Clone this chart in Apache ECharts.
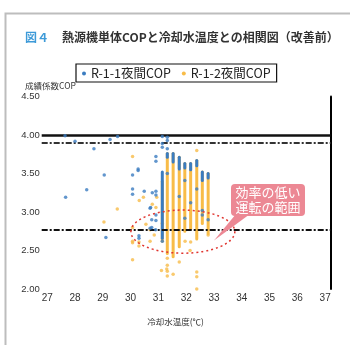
<!DOCTYPE html>
<html>
<head>
<meta charset="utf-8">
<script src="https://cdn.jsdelivr.net/npm/echarts@6/dist/echarts.min.js"></script>
<style>
  html, body { margin: 0; padding: 0; background: #fff; }
  #chart { width: 350px; height: 345px; }
</style>
</head>
<body>
<div id="chart"></div>
<script>
// ---- series names ----
const seriesNames = ['R-1-1夜間COP', 'R-1-2夜間COP'];

// ---- reference lines (COP) ----
const refSolid = 4.00;
const refDashDot = 3.90;
const refDashed = 2.77;

// ---- axis ranges / ticks ----
const xTickLabels = [27, 28, 29, 30, 31, 32, 33, 34, 35, 36, 37];
const yTickLabels = [2.00, 2.50, 3.00, 3.50, 4.00, 4.50];

// ---- R-1-1 scattered readings (cooling water temp, COP) ----
const r1X = [27.64, 28.00, 28.68, 29.26, 29.53, 29.05, 28.42, 27.66, 30.27, 30.27,
             30.07, 30.07, 30.07, 30.49, 30.78, 30.70, 30.91, 30.91, 30.91, 30.91,
             30.72, 30.76, 30.76, 30.91, 30.91, 30.90, 29.11, 30.30, 30.30, 31.14,
             31.14, 31.14, 31.32, 31.32, 31.32, 31.32, 31.95, 30.70, 31.14, 31.95,
             32.58, 32.58, 32.79, 32.38, 31.75, 32.16];
const r1Y = [3.99, 3.92, 3.82, 3.94, 3.98, 3.48, 3.29, 3.19, 3.56, 3.54,
             3.48, 3.30, 3.23, 3.27, 3.25, 3.05, 3.72, 3.66, 3.27, 3.22,
             3.06, 2.90, 2.80, 2.96, 2.89, 2.77, 2.67, 2.69, 2.66, 3.98,
             3.89, 3.84, 3.97, 3.93, 3.82, 3.50, 3.41, 2.79, 2.62, 2.92,
             3.02, 2.96, 2.90, 3.30, 3.20, 3.12];

// ---- R-1-2 scattered readings ----
const r2X = [30.07, 29.52, 30.31, 30.46, 30.78, 30.94, 30.91, 29.04, 30.07, 30.07,
             30.07, 30.07, 30.70, 30.70, 31.11, 31.32, 31.32, 31.32, 31.32, 31.53,
             31.75, 32.16, 32.14, 32.38, 32.38, 32.38, 32.38, 31.96, 32.79, 31.30,
             30.30, 30.30, 31.14, 31.14, 30.55, 30.85];
const r2Y = [3.72, 3.04, 3.15, 3.19, 3.10, 3.19, 3.06, 2.87, 2.80, 2.62,
             2.60, 2.38, 2.77, 2.62, 2.24, 2.40, 2.31, 2.23, 2.17, 2.19,
             2.35, 2.61, 2.50, 2.22, 2.16, 2.00, 3.80, 2.62, 2.70, 2.26,
             2.61, 2.56, 2.85, 3.00, 2.84, 2.70];

// ---- dense reading columns: temperature and COP span per column ----
const colX      = [31.14, 31.32, 31.53, 31.75, 31.95, 32.16, 32.38, 32.58, 32.79];
const r2ColLow  = [2.62, 2.46, 2.42, 2.55, 2.75, 2.78, 2.65, 2.85, 2.72];
const r2ColHigh = [3.40, 3.76, 3.76, 3.71, 3.63, 3.63, 3.67, 3.52, 3.50];
const r1ColLow  = [2.66, 3.71, 3.65, 3.56, 3.57, 3.55, 3.60, 3.41, 3.44];
const r1ColHigh = [3.52, 3.76, 3.76, 3.71, 3.63, 3.63, 3.67, 3.52, 3.50];

// ---- low-efficiency region annotation (data coordinates) ----
const regionCenter = [31.88, 2.745];
const regionRadius = [1.87, 0.28];
const calloutTip = [33.0, 2.63];

const BLUE = '#3b7cc0';
const ORANGE = '#f8bc48';
const FONT = '"Noto Sans CJK JP", "Noto Sans", sans-serif';
const NUMFONT = '"Liberation Sans", Arial, sans-serif';

const zip = (xs, ys) => xs.map((x, i) => [x, ys[i]]);
const spans = (lo, hi) => colX.map((x, i) => [x, lo[i], hi[i]]);

function spanRenderer(color, w) {
  return function (params, api) {
    const top = api.coord([api.value(0), api.value(2)]);
    const bot = api.coord([api.value(0), api.value(1)]);
    return {
      type: 'rect',
      shape: { x: top[0] - w / 2, y: top[1] - w / 2, width: w, height: bot[1] - top[1] + w, r: w / 2 },
      style: { fill: color }
    };
  };
}

const chart = echarts.init(document.getElementById('chart'), null, { renderer: 'canvas' });

const isTick = (v, list) => list.some(t => Math.abs(t - v) < 1e-6);

const option = {
  animation: false,
  backgroundColor: '#fff',
  title: {
    text: '{a|図４}{b|熱源機単体COPと冷却水温度との相関図（改善前）}',
    left: 25, top: 31, padding: 0,
    textStyle: {
      rich: {
        a: { fontFamily: FONT, fontSize: 12, fontWeight: 'bold', color: '#3d9ad8' },
        b: { fontFamily: FONT, fontSize: 12, fontWeight: 'bold', color: '#333', padding: [0, 0, 0, 13] }
      }
    }
  },
  legend: {
    left: 76, top: 64,
    data: [{ name: seriesNames[0], icon: 'circle' }, { name: seriesNames[1], icon: 'circle' }],
    itemWidth: 4, itemHeight: 4, itemGap: 11,
    padding: [3, 6, 2, 6],
    borderColor: '#111', borderWidth: 1.2,
    selectedMode: false,
    textStyle: { fontFamily: FONT, fontSize: 12.5, color: '#222', lineHeight: 13 }
  },
  grid: { left: 41.7, right: 19.3, top: 96.5, bottom: 56 },
  xAxis: {
    type: 'value', min: 26.8, max: 37.2, interval: 0.2,
    axisLine: { show: false }, axisTick: { show: false }, splitLine: { show: false },
    axisLabel: {
      margin: 4, color: '#333', fontFamily: NUMFONT, fontSize: 10,
      formatter: v => isTick(v, xTickLabels) ? String(Math.round(v)) : ''
    }
  },
  yAxis: [{
    type: 'value', min: 2, max: 4.5, interval: 0.5,
    axisLine: { show: false }, axisTick: { show: false }, splitLine: { show: false },
    axisLabel: {
      margin: 2, color: '#333', fontFamily: NUMFONT, fontSize: 9.5,
      formatter: v => isTick(v, yTickLabels) ? v.toFixed(2) : ''
    }
  }, {
    type: 'value', min: 2, max: 4.5, position: 'right',
    axisLine: { show: true, lineStyle: { color: '#000', width: 2 } },
    axisTick: { show: false }, axisLabel: { show: false }, splitLine: { show: false }
  }],
  series: [
    {
      name: seriesNames[1], type: 'custom', z: 2, color: ORANGE,
      renderItem: spanRenderer(ORANGE, 3),
      encode: { x: 0, y: [1, 2] },
      data: spans(r2ColLow, r2ColHigh)
    },
    {
      name: seriesNames[1], type: 'scatter', z: 3, color: ORANGE,
      symbolSize: 3.5, itemStyle: { color: ORANGE },
      data: zip(r2X, r2Y)
    },
    {
      name: seriesNames[0], type: 'custom', z: 4, color: BLUE,
      renderItem: spanRenderer(BLUE, 3),
      encode: { x: 0, y: [1, 2] },
      data: spans(r1ColLow, r1ColHigh)
    },
    {
      name: seriesNames[0], type: 'scatter', z: 5, color: BLUE,
      symbolSize: 3.5, itemStyle: { color: BLUE },
      data: zip(r1X, r1Y)
    },
    {
      name: 'ref', type: 'line', z: 8, data: [],
      markLine: {
        silent: true, symbol: 'none', label: { show: false },
        data: [
          { yAxis: refSolid, lineStyle: { color: '#111', width: 2.5, type: 'solid' } },
          { yAxis: refDashDot, lineStyle: { color: '#333', width: 2, type: [6, 2, 2, 2] } },
          { yAxis: refDashed, lineStyle: { color: '#111', width: 2, type: [6, 2, 2, 2] } }
        ]
      }
    }
  ]
};

chart.setOption(option);

// annotation shapes placed from data coordinates
const c = chart.convertToPixel({ gridIndex: 0 }, regionCenter);
const e = chart.convertToPixel({ gridIndex: 0 }, [regionCenter[0] + regionRadius[0], regionCenter[1] + regionRadius[1]]);
const tip = chart.convertToPixel({ gridIndex: 0 }, calloutTip);

chart.setOption({
  graphic: [
    { type: 'rect', left: 3, top: 11, shape: { width: 360, height: 360 }, style: { fill: 'none', stroke: '#bdbdbd', lineWidth: 2 }, z: 0, silent: true },
    { type: 'text', left: 25, top: 82, style: { text: '成績係数COP', font: '8.5px ' + FONT, fill: '#333' }, z: 20 },
    { type: 'text', x: 175.5, y: 322, style: { text: '冷却水温度(℃)', font: '8.5px ' + FONT, fill: '#333', textAlign: 'center', textVerticalAlign: 'middle' }, z: 20 },
    {
      type: 'ellipse', z: 30, silent: true,
      shape: { cx: c[0], cy: c[1], rx: e[0] - c[0], ry: c[1] - e[1] },
      style: { fill: 'none', stroke: '#e0352f', lineWidth: 1.5, lineDash: [2, 3] }
    },
    {
      type: 'polygon', z: 31, silent: true,
      shape: { points: [[236, 214], [250, 214], tip] },
      style: { fill: '#ec8894' }
    },
    {
      type: 'rect', z: 31, silent: true,
      shape: { x: 231, y: 184, width: 74, height: 32, r: 4 },
      style: { fill: '#ec8894' }
    },
    {
      type: 'text', z: 32, silent: true, x: 268, y: 200,
      style: { text: '効率の低い\n運転の範囲', font: '13px ' + FONT, fill: '#fff', textAlign: 'center', textVerticalAlign: 'middle', lineHeight: 15 }
    }
  ]
});
</script>
</body>
</html>
